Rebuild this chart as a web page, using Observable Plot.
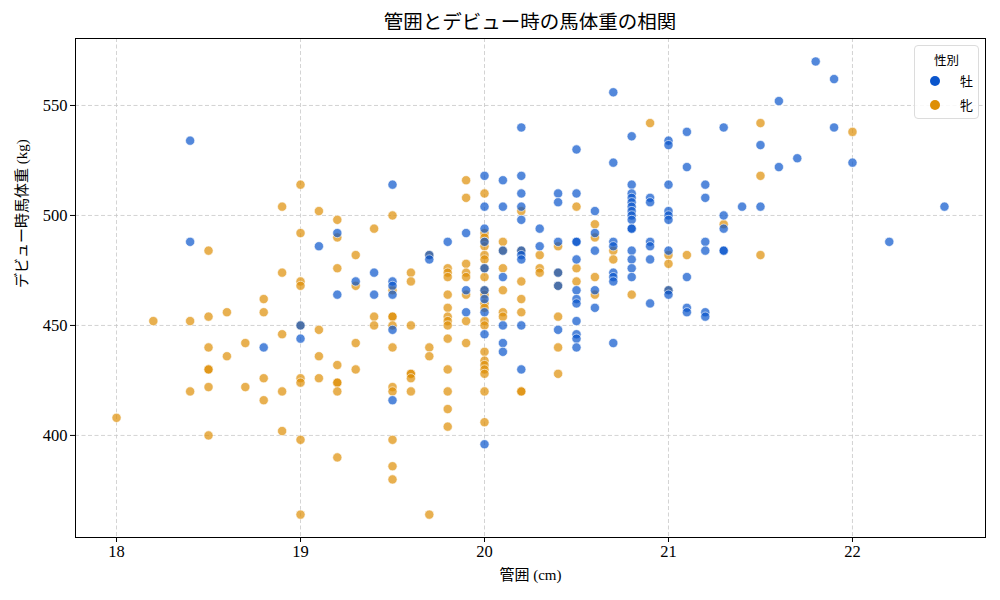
<!DOCTYPE html>
<html>
<head>
<meta charset="utf-8">
<script src="https://cdn.jsdelivr.net/npm/d3@7"></script>
<script src="https://cdn.jsdelivr.net/npm/@observablehq/plot@0.6"></script>
<style>
  body { margin: 0; background: #fff; }
  #wrap { position: relative; width: 1000px; height: 600px; font-family: "Liberation Serif", "Noto Sans CJK JP", serif; }
  #title { position: absolute; left: 75px; width: 910px; top: 8px; text-align: center; font-size: 19.5px; line-height: 26px; color: #000; font-family: "Noto Sans CJK JP", sans-serif; }
  #chart { position: absolute; left: 0; top: 30px; }
  #legend { position: absolute; left: 914px; top: 45px; width: 63px; height: 72px; border: 1px solid #dcdcdc; border-radius: 4px; background: rgba(255,255,255,0.85); font-family: "Noto Sans CJK JP", sans-serif; color: #000; }
  #legend .lt { position: absolute; top: 4px; left: 0; width: 63px; text-align: center; font-size: 12.5px; }
  #legend .row { position: absolute; left: 0; width: 63px; height: 20px; font-size: 13px; }
  #legend .dot { position: absolute; left: 15px; top: 5px; width: 10px; height: 10px; border-radius: 50%; }
  #legend .lab { position: absolute; left: 45px; top: 0px; line-height: 20px; }
</style>
</head>
<body>
<div id="wrap">
  <div id="title"></div>
  <div id="chart"></div>
  <div id="legend"></div>
</div>
<script>
// ---- data ----
const titleText = "管囲とデビュー時の馬体重の相関";
const xLabel = "管囲 (cm)";
const yLabel = "デビュー時馬体重 (kg)";
const legendTitle = "性別";
const sexes = ["牡", "牝"];
const sexColors = ["#0a55cc", "#de8f05"];
const xTicks = [18, 19, 20, 21, 22];
const yTicks = [400, 450, 500, 550];

// 牡 (male): girth values and the weights observed at each girth
const maleGirths = [18.4, 18.8, 19.0, 19.1, 19.2, 19.3, 19.4, 19.5, 19.7, 19.8, 19.9, 20.0, 20.1, 20.2, 20.3, 20.4, 20.5, 20.6, 20.7, 20.8, 20.9, 21.0, 21.1, 21.2, 21.3, 21.4, 21.5, 21.6, 21.7, 21.8, 21.9, 22.0, 22.2, 22.5];
const maleWeights = [
  [534, 488],
  [440],
  [450, 444],
  [486],
  [492, 464],
  [470],
  [474, 464],
  [514, 470, 468, 464, 448, 416],
  [482, 480],
  [488],
  [492, 466, 456],
  [518, 504, 494, 488, 476, 466, 462, 456, 446, 396],
  [516, 504, 484, 472, 450, 442, 438],
  [540, 518, 510, 504, 498, 484, 482, 480, 450, 430],
  [494, 486],
  [510, 506, 488, 474, 468, 448],
  [530, 510, 488, 488, 480, 466, 462, 460, 452, 446, 444, 440],
  [502, 492, 484, 466, 458],
  [556, 524, 488, 486, 474, 472, 470, 442],
  [536, 514, 510, 508, 506, 504, 502, 500, 498, 494, 494, 484, 480, 476, 472],
  [508, 506, 488, 486, 480, 460],
  [534, 532, 514, 502, 500, 498, 484, 466, 464],
  [538, 522, 472, 458, 456],
  [514, 508, 488, 484, 456, 454],
  [540, 500, 494, 484, 484],
  [504],
  [532, 504],
  [552, 522],
  [526],
  [570],
  [562, 540],
  [524],
  [488],
  [504]
];

// 牝 (female)
const femaleGirths = [18.0, 18.2, 18.4, 18.5, 18.6, 18.7, 18.8, 18.9, 19.0, 19.1, 19.2, 19.3, 19.4, 19.5, 19.6, 19.7, 19.8, 19.9, 20.0, 20.1, 20.2, 20.3, 20.4, 20.5, 20.6, 20.7, 20.8, 20.9, 21.0, 21.1, 21.3, 21.5, 22.0];
const femaleWeights = [
  [408],
  [452],
  [452, 420],
  [484, 454, 440, 430, 430, 422, 400],
  [456, 436],
  [442, 422],
  [462, 456, 426, 416],
  [504, 474, 446, 420, 402],
  [514, 492, 470, 468, 450, 426, 424, 398, 364],
  [502, 448, 436, 426],
  [498, 490, 476, 432, 424, 424, 420, 390],
  [482, 468, 442, 430],
  [494, 454, 450],
  [500, 466, 454, 454, 450, 440, 422, 420, 398, 386, 380],
  [474, 470, 450, 428, 428, 426, 420],
  [482, 440, 436, 364],
  [476, 474, 472, 464, 458, 454, 452, 450, 444, 430, 420, 412, 404],
  [516, 508, 478, 474, 472, 464, 452, 442],
  [510, 492, 490, 488, 486, 482, 480, 476, 472, 466, 464, 460, 458, 452, 450, 438, 434, 432, 430, 428, 420, 406],
  [488, 484, 476, 466, 456, 454],
  [502, 484, 470, 462, 456, 420, 420],
  [482, 476, 474],
  [486, 474, 468, 454, 440, 428],
  [504, 476, 470],
  [496, 490, 472, 464],
  [484, 480],
  [464],
  [542],
  [482, 478, 466],
  [482],
  [496],
  [542, 518, 482],
  [538]
];

// ---- build tables ----
const males = maleGirths.flatMap((g, i) => maleWeights[i].map(w => ({girth: g, weight: w, sex: sexes[0]})));
const females = femaleGirths.flatMap((g, i) => femaleWeights[i].map(w => ({girth: g, weight: w, sex: sexes[1]})));

const font = '"Liberation Serif", "Noto Sans CJK JP", serif';

const chart = Plot.plot({
  width: 1000,
  height: 570,
  marginTop: 8,
  marginBottom: 63,
  marginLeft: 75,
  marginRight: 15,
  style: {fontFamily: font, fontSize: "16.5px", background: "white", color: "black", overflow: "visible"},
  x: {domain: [17.777, 22.723]},
  y: {domain: [353.6, 580.45]},
  color: {domain: sexes, range: sexColors},
  marks: [
    Plot.gridX(xTicks, {stroke: "#c8c8c8", strokeOpacity: 1, strokeWidth: 0.8, strokeDasharray: "4,2.5"}),
    Plot.gridY(yTicks, {stroke: "#c8c8c8", strokeOpacity: 1, strokeWidth: 0.8, strokeDasharray: "4,2.5"}),
    Plot.dot(females, {x: "girth", y: "weight", fill: "sex", r: 4.6, fillOpacity: 0.7, stroke: "white", strokeWidth: 0.6}),
    Plot.dot(males, {x: "girth", y: "weight", fill: "sex", r: 4.6, fillOpacity: 0.7, stroke: "white", strokeWidth: 0.6}),
    Plot.frame({stroke: "black", strokeWidth: 1}),
    Plot.axisX(xTicks, {tickSize: 5, tickPadding: 3, tickFormat: d => String(d), fontSize: 16.5, label: null}),
    Plot.axisY(yTicks, {tickSize: 5, tickPadding: 3, tickFormat: d => String(d), fontSize: 16.5, label: null}),
    Plot.text([xLabel], {text: d => d, frameAnchor: "bottom", dy: 42, fontSize: 15, fill: "black"}),
    Plot.text([yLabel], {text: d => d, frameAnchor: "left", dx: -53, rotate: -90, fontSize: 15, fill: "black"})
  ]
});
document.getElementById("chart").appendChild(chart);
document.getElementById("title").textContent = titleText;

const lg = document.getElementById("legend");
const lt = document.createElement("div");
lt.className = "lt";
lt.textContent = legendTitle;
lg.appendChild(lt);
sexes.forEach((s, i) => {
  const row = document.createElement("div");
  row.className = "row";
  row.style.top = (25 + i * 24) + "px";
  const dot = document.createElement("div");
  dot.className = "dot";
  dot.style.background = sexColors[i];
  const lab = document.createElement("div");
  lab.className = "lab";
  lab.textContent = s;
  row.appendChild(dot);
  row.appendChild(lab);
  lg.appendChild(row);
});
</script>
</body>
</html>
